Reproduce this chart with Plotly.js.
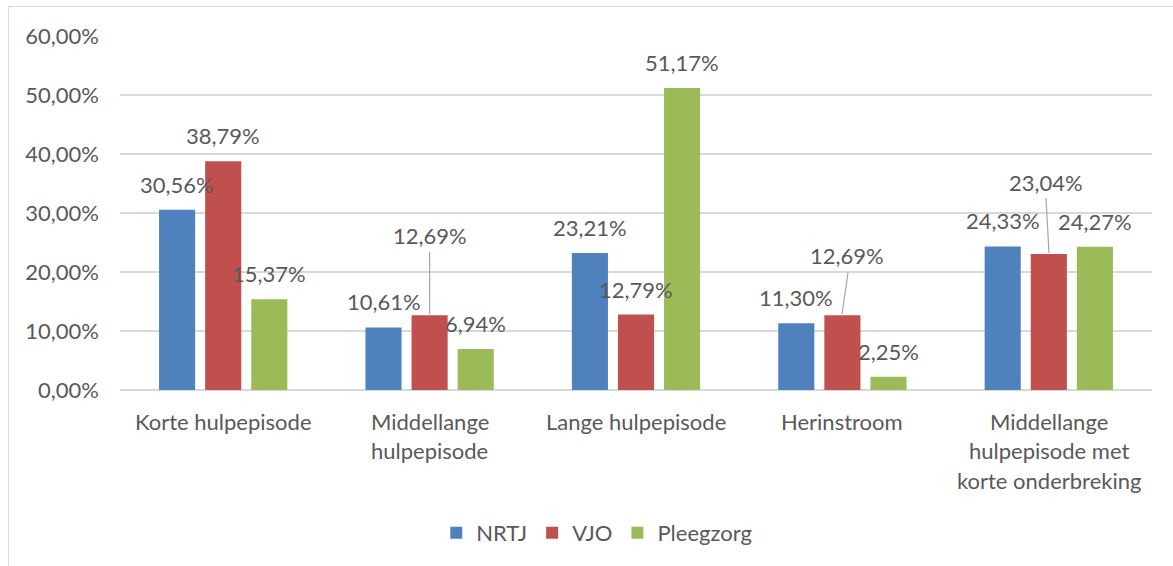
<!DOCTYPE html>
<html>
<head>
<meta charset="utf-8">
<script src="https://cdn.plot.ly/plotly-3.0.1.min.js"></script>
<style>
  html, body { margin: 0; padding: 0; overflow: hidden; background: #fff; }
  #chart { width: 1173px; height: 566px; }
  #frame { position: absolute; left: 8px; top: 6px; width: 2000px; height: 2000px;
           border: 1.5px solid #d9d9d9; pointer-events: none; }
</style>
</head>
<body>
<div id="chart"></div>
<div id="frame"></div>
<script>
// ---- data ----
const categories = [
  "Korte hulpepisode",
  "Middellange<br>hulpepisode",
  "Lange hulpepisode",
  "Herinstroom",
  "Middellange<br>hulpepisode met<br>korte onderbreking"
];
const seriesNames = ["NRTJ", "VJO", "Pleegzorg"];
const nrtj = [30.56, 10.61, 23.21, 11.30, 24.33];
const vjo = [38.79, 12.69, 12.79, 12.69, 23.04];
const pleegzorg = [15.37, 6.94, 51.17, 2.25, 24.27];
const seriesValues = [nrtj, vjo, pleegzorg];
const seriesColors = ["#4F81BD", "#C0504D", "#9BBB59"];

// labels that were moved in the original and carry a leader line
// key: "series-category" -> [dx px, dy px above bar top, leader line x0, y0, x1, y1 (px)]
const leaderLabels = {
  "1-1": [0, 80, 0, 1, 0, 63],
  "1-3": [4.5, 60, -0.4, 1, 5.6, 42.5],
  "1-4": [-3, 72, 0.2, 1, -2.8, 56]
};

const FONT = "Lato, 'Open Sans', sans-serif";
const FS = 22;
const TXT = "#595959";
const bargap = 0.33;
const slot = (1 - bargap) / 3;

const fmt = v => v.toFixed(2).replace(".", ",") + "%";

const traces = seriesValues.map((vals, j) => ({
  type: "bar",
  name: seriesNames[j],
  x: categories,
  y: vals,
  marker: { color: seriesColors[j] },
  hoverinfo: "skip"
}));

const annotations = [];
const shapes = [];
seriesValues.forEach((vals, j) => {
  vals.forEach((v, i) => {
    const key = j + "-" + i;
    const xpos = i + (j - 1) * slot;
    const ll = leaderLabels[key];
    const dx = ll ? ll[0] : 0;
    const dy = ll ? ll[1] : 25.5;
    annotations.push({
      x: xpos, y: v, xref: "x", yref: "y",
      text: fmt(v), showarrow: false,
      xshift: dx, yshift: dy,
      xanchor: "center", yanchor: "middle",
      font: { family: FONT, size: FS, color: TXT }
    });
    if (ll) {
      shapes.push({
        type: "line", xref: "x", yref: "y",
        xsizemode: "pixel", ysizemode: "pixel",
        xanchor: xpos, yanchor: v,
        x0: ll[2], y0: ll[3], x1: ll[4], y1: ll[5],
        line: { color: "#a6a6a6", width: 1.2 }
      });
    }
  });
});

// category labels, one annotation per line to match line spacing
categories.forEach((c, i) => {
  c.split("<br>").forEach((line, k) => {
    annotations.push({
      x: i, y: 0, xref: "x", yref: "paper",
      text: line, showarrow: false,
      xanchor: "center", yanchor: "middle",
      yshift: -(31 + k * 29.5),
      font: { family: FONT, size: FS, color: TXT }
    });
  });
});

const layout = {
  width: 1173, height: 566,
  margin: { l: 120, r: 21, t: 36, b: 176 },
  paper_bgcolor: "#ffffff", plot_bgcolor: "#ffffff",
  separators: ", ",
  barmode: "group",
  bargap: bargap,
  bargroupgap: 0.217,
  font: { family: FONT, size: FS, color: TXT },
  xaxis: {
    type: "category",
    showticklabels: false,
    showgrid: false,
    zeroline: false,
    showline: false,
    ticks: ""
  },
  yaxis: {
    range: [0, 60],
    dtick: 10,
    tickformat: ".2f",
    ticksuffix: "%",
    showgrid: true,
    gridcolor: "#d9d9d9",
    gridwidth: 1.3,
    zeroline: true,
    zerolinecolor: "#d9d9d9",
    zerolinewidth: 1.3,
    showline: false,
    ticks: "",
    ticklabelstandoff: 20,
    tickfont: { family: FONT, size: FS, color: TXT }
  },
  showlegend: true,
  legend: {
    orientation: "h",
    x: 0.462, xanchor: "center",
    y: -0.404, yanchor: "middle",
    font: { family: FONT, size: FS, color: TXT },
    traceorder: "normal"
  },
  annotations: annotations,
  shapes: shapes
};

Plotly.newPlot("chart", traces, layout, { displayModeBar: false, staticPlot: true });
</script>
</body>
</html>
